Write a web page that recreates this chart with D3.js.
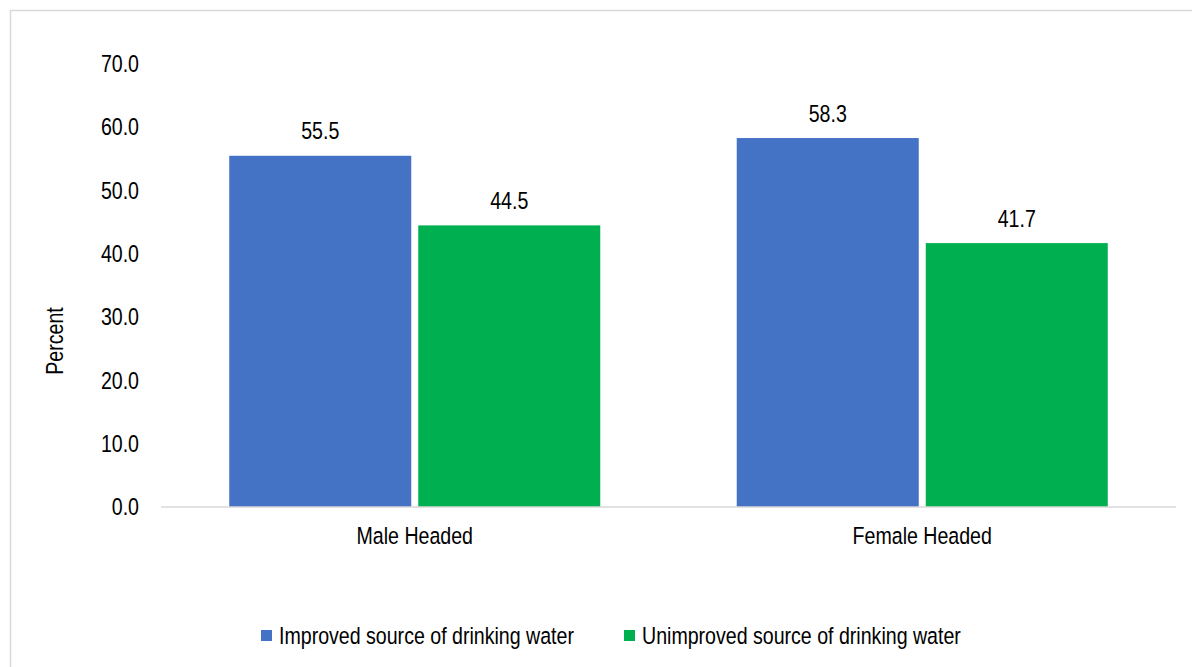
<!DOCTYPE html>
<html>
<head>
<meta charset="utf-8">
<script src="https://cdn.jsdelivr.net/npm/d3@7/dist/d3.min.js"></script>
<style>
  html, body { margin: 0; padding: 0; background: #fff; }
  svg { display: block; }
  text { font-family: "Liberation Sans", Arial, sans-serif; fill: #000; }
</style>
</head>
<body>
<script>
const categories = ["Male Headed", "Female Headed"];
const seriesNames = ["Improved source of drinking water", "Unimproved source of drinking water"];
const improved = [55.5, 58.3];
const unimproved = [44.5, 41.7];
const yTicks = [0, 10, 20, 30, 40, 50, 60, 70];
const colors = ["#4472C4", "#00B050"];

const W = 1192, H = 667;
const FS = 19.6, SY = 1.2;
const svg = d3.select("body").append("svg").attr("width", W).attr("height", H);

// outer border (extends beyond right and bottom edges)
svg.append("rect").attr("x", 10.5).attr("y", 10.5).attr("width", 1300).attr("height", 800)
  .attr("fill", "none").attr("stroke", "#d9d9d9").attr("stroke-width", 1.5);

const y = d3.scaleLinear().domain([0, 70]).range([507, 64]);
const x0 = d3.scaleBand().domain(categories).range([161, 1176]).padding(0);
const x1 = d3.scaleBand().domain(seriesNames).range([0, x0.bandwidth()])
  .paddingInner(7 / 189).paddingOuter(0.361);

const data = categories.map((c, i) => ({ cat: c, vals: [improved[i], unimproved[i]] }));

function label(g, x, yy, txt, anchor) {
  return g.append("text")
    .attr("transform", `translate(${x},${yy}) scale(1,${SY})`)
    .attr("text-anchor", anchor || "middle")
    .attr("font-size", FS + "px")
    .text(txt);
}

// y tick labels
const fmt = d3.format(".1f");
yTicks.forEach(t => {
  const g = svg.append("g");
  g.append("text")
    .attr("transform", `translate(139,${y(t)}) scale(1,${SY})`)
    .attr("text-anchor", "end")
    .attr("dominant-baseline", "central")
    .attr("font-size", FS + "px")
    .text(fmt(t));
});

// bars
data.forEach(d => {
  const g = svg.append("g").attr("transform", `translate(${x0(d.cat)},0)`);
  d.vals.forEach((v, j) => {
    const s = seriesNames[j];
    g.append("rect")
      .attr("x", x1(s)).attr("y", y(v))
      .attr("width", x1.bandwidth()).attr("height", y(0) - y(v))
      .attr("fill", colors[j]);
    label(g, x1(s) + x1.bandwidth() / 2, y(v) - 16.5, fmt(v));
  });
});

// baseline
svg.append("line").attr("x1", 161).attr("x2", 1176).attr("y1", y(0)).attr("y2", y(0))
  .attr("stroke", "#d9d9d9").attr("stroke-width", 1.5);

// category labels
categories.forEach(c => label(svg, x0(c) + x0.bandwidth() / 2, 544, c));

// y axis title
svg.append("text")
  .attr("transform", `translate(63,341) rotate(-90) scale(1,${SY})`)
  .attr("text-anchor", "middle")
  .attr("font-size", FS + "px")
  .text("Percent");

// legend
const legX = [261, 624];
seriesNames.forEach((s, i) => {
  svg.append("rect").attr("x", legX[i]).attr("y", 630).attr("width", 11).attr("height", 11)
    .attr("fill", colors[i]);
  label(svg, legX[i] + 18, 644, s, "start");
});
</script>
</body>
</html>
